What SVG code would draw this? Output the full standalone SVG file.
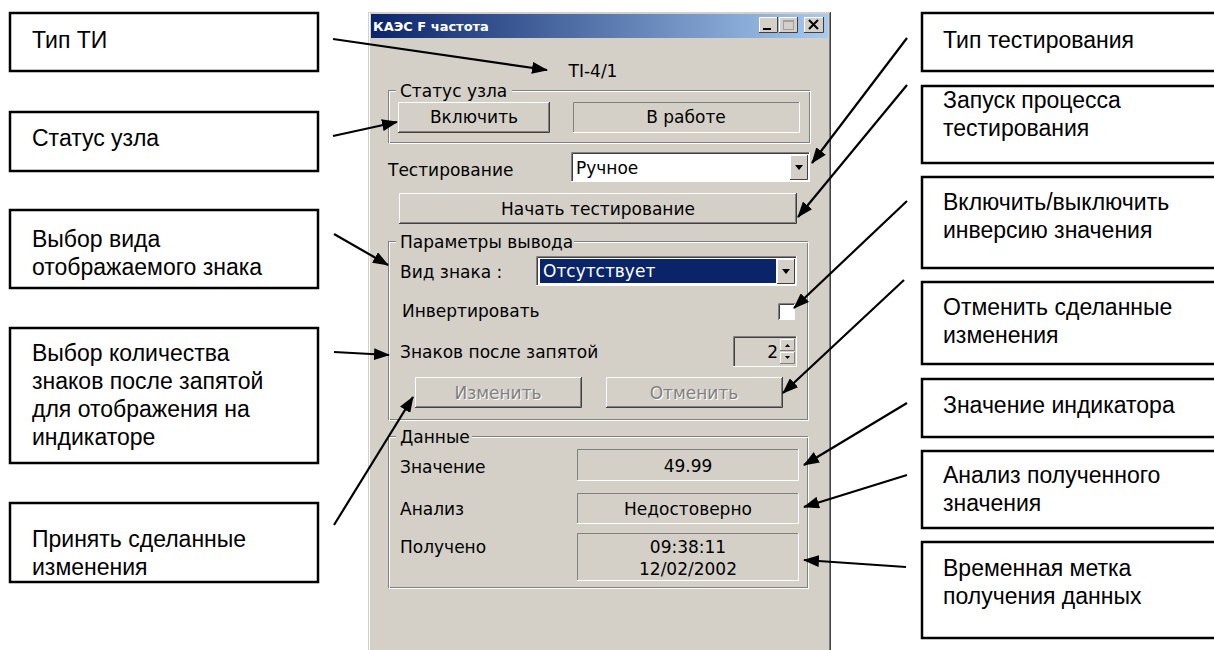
<svg xmlns="http://www.w3.org/2000/svg" width="1214" height="650" viewBox="0 0 1214 650">
<style>
.cb{fill:#fff;stroke:#000;stroke-width:2.5}
.ct{font-family:"Liberation Sans",Arial,sans-serif;font-size:23px;fill:#000}
.ui{font-family:"DejaVu Sans","Liberation Sans",sans-serif;font-size:17px;fill:#000}
.dis{fill:#808080}
.shd{fill:#fff}
.face{fill:#d4d0c8}
.conn line{stroke:#000;stroke-width:2.2}
</style>
<defs>
<linearGradient id="tb" x1="0" y1="0" x2="1" y2="0">
<stop offset="0" stop-color="#0a246a"/>
<stop offset="1" stop-color="#a6caf0"/>
</linearGradient>
<marker id="ah" markerUnits="userSpaceOnUse" markerWidth="16" markerHeight="12" refX="15" refY="6" orient="auto">
<path d="M0,0 L16,6 L0,12 z" fill="#000"/>
</marker>
</defs>
<rect width="1214" height="650" fill="#fff"/>

<g id="window">
<rect x="368" y="12" width="463" height="640" fill="#d4d0c8"/>
<line x1="368.5" y1="12" x2="368.5" y2="650" stroke="#d4d0c8"/>
<line x1="369.5" y1="13" x2="369.5" y2="650" stroke="#fff"/>
<line x1="830.5" y1="12" x2="830.5" y2="650" stroke="#404040"/>
<line x1="829.5" y1="13" x2="829.5" y2="650" stroke="#808080"/>
<rect x="371" y="14" width="457" height="24" fill="url(#tb)"/>
<text x="373" y="31" style="font-family:'DejaVu Sans',sans-serif;font-size:13px;font-weight:bold;fill:#fff">КАЭС F частота</text>
<g id="tbtns">
<rect x="759" y="17" width="19" height="16" class="face"/>
<path d="M759.5,33 V17.5 H778" fill="none" stroke="#fff"/>
<path d="M759,32.5 H777.5 V17" fill="none" stroke="#404040"/>
<rect x="763" y="28" width="8" height="2" fill="#000"/>
<rect x="779" y="17" width="19" height="16" class="face"/>
<path d="M779.5,33 V17.5 H798" fill="none" stroke="#fff"/>
<path d="M779,32.5 H797.5 V17" fill="none" stroke="#404040"/>
<rect x="783.5" y="20.5" width="10" height="9" fill="none" stroke="#a0a0a0"/>
<line x1="783.5" y1="21.5" x2="793.5" y2="21.5" stroke="#a0a0a0"/>
<rect x="804" y="17" width="20" height="16" class="face"/>
<path d="M804.5,33 V17.5 H824" fill="none" stroke="#fff"/>
<path d="M804,32.5 H823.5 V17" fill="none" stroke="#404040"/>
<path d="M809,20 L818,29 M818,20 L809,29" stroke="#000" stroke-width="2"/>
</g>
</g>

<g id="ti"><text class="ui" x="593" y="77" text-anchor="middle">TI-4/1</text></g>

<g id="grp-status">
<rect x="388.5" y="90.5" width="421" height="52" fill="none" stroke="#808080"/>
<rect x="389.5" y="91.5" width="421" height="52" fill="none" stroke="#fff"/>
<rect x="396" y="84" width="116" height="12" class="face"/>
<text class="ui" x="400" y="97">Статус узла</text>
<rect x="398" y="102" width="152" height="31" class="face"/>
<path d="M398.5,133 V102.5 H550" fill="none" stroke="#fff"/>
<path d="M398,132.5 H549.5 V102" fill="none" stroke="#404040"/>
<path d="M399,131.5 H548.5 V103" fill="none" stroke="#808080"/>
<text class="ui" x="474" y="123" text-anchor="middle">Включить</text>
<path d="M573.5,133 V102.5 H800" fill="none" stroke="#808080"/>
<path d="M573,132.5 H799.5 V102" fill="none" stroke="#fff"/>
<text class="ui" x="686" y="123" text-anchor="middle">В работе</text>
</g>

<g id="testing">
<text class="ui" x="388" y="176">Тестирование</text>
<rect x="571" y="152" width="239" height="30" fill="#fff"/>
<path d="M571.5,182 V152.5 H810" fill="none" stroke="#808080"/>
<path d="M572.5,181 V153.5 H809" fill="none" stroke="#404040"/>
<path d="M571,181.5 H809.5 V152" fill="none" stroke="#fff"/>
<text class="ui" x="576" y="174">Ручное</text>
<rect x="790" y="155" width="18" height="25" class="face"/>
<path d="M790.5,180 V155.5 H808" fill="none" stroke="#fff"/>
<path d="M790,179.5 H807.5 V155" fill="none" stroke="#404040"/>
<path d="M795,165 H803 L799,170 z" fill="#000"/>
</g>

<g id="btn-start">
<rect x="399" y="193" width="398" height="31" class="face"/>
<path d="M399.5,224 V193.5 H797" fill="none" stroke="#fff"/>
<path d="M399,223.5 H796.5 V193" fill="none" stroke="#404040"/>
<path d="M400,222.5 H795.5 V194" fill="none" stroke="#808080"/>
<text class="ui" x="598" y="215" text-anchor="middle">Начать тестирование</text>
</g>

<g id="grp-params">
<rect x="388.5" y="241.5" width="419" height="178" fill="none" stroke="#808080"/>
<rect x="389.5" y="242.5" width="419" height="178" fill="none" stroke="#fff"/>
<rect x="396" y="235" width="178" height="12" class="face"/>
<text class="ui" x="400" y="248">Параметры вывода</text>
<text class="ui" x="400" y="278">Вид знака :</text>
<rect x="536" y="256" width="261" height="30" fill="#fff"/>
<path d="M536.5,286 V256.5 H797" fill="none" stroke="#808080"/>
<path d="M537.5,285 V257.5 H796" fill="none" stroke="#404040"/>
<path d="M536,285.5 H796.5 V256" fill="none" stroke="#fff"/>
<rect x="540" y="259" width="236" height="24" fill="#0a246a"/>
<text class="ui" x="543" y="277" style="fill:#fff">Отсутствует</text>
<rect x="777" y="259" width="18" height="25" class="face"/>
<path d="M777.5,284 V259.5 H795" fill="none" stroke="#fff"/>
<path d="M777,283.5 H794.5 V259" fill="none" stroke="#404040"/>
<path d="M782,269 H790 L786,274 z" fill="#000"/>
<text class="ui" x="402" y="317">Инвертировать</text>
<rect x="778" y="303" width="17" height="17" fill="#fff"/>
<path d="M778.5,320 V303.5 H795" fill="none" stroke="#808080"/>
<path d="M779.5,319 V304.5 H794" fill="none" stroke="#404040"/>
<text class="ui" x="400" y="358">Знаков после запятой</text>
<rect x="733" y="336" width="64" height="31" class="face"/>
<path d="M733.5,367 V336.5 H797" fill="none" stroke="#808080"/>
<path d="M734.5,366 V337.5 H796" fill="none" stroke="#404040"/>
<path d="M733,366.5 H796.5 V336" fill="none" stroke="#fff"/>
<text class="ui" x="778" y="358" text-anchor="end">2</text>
<rect x="780" y="339" width="15" height="12" class="face"/>
<path d="M780.5,351 V339.5 H795" fill="none" stroke="#fff"/>
<path d="M780,350.5 H794.5 V339" fill="none" stroke="#808080"/>
<path d="M785,347 H790 L787.5,344 z" fill="#000"/>
<rect x="780" y="352" width="15" height="12" class="face"/>
<path d="M780.5,364 V352.5 H795" fill="none" stroke="#fff"/>
<path d="M780,363.5 H794.5 V352" fill="none" stroke="#808080"/>
<path d="M785,356 H790 L787.5,359 z" fill="#000"/>
<rect x="415" y="377" width="167" height="31" class="face"/>
<path d="M415.5,408 V377.5 H582" fill="none" stroke="#fff"/>
<path d="M415,407.5 H581.5 V377" fill="none" stroke="#404040"/>
<path d="M416,406.5 H580.5 V378" fill="none" stroke="#808080"/>
<text class="ui shd" x="499" y="400" text-anchor="middle">Изменить</text>
<text class="ui dis" x="498" y="399" text-anchor="middle">Изменить</text>
<rect x="606" y="377" width="177" height="31" class="face"/>
<path d="M606.5,408 V377.5 H783" fill="none" stroke="#fff"/>
<path d="M606,407.5 H782.5 V377" fill="none" stroke="#404040"/>
<path d="M607,406.5 H781.5 V378" fill="none" stroke="#808080"/>
<text class="ui shd" x="695" y="400" text-anchor="middle">Отменить</text>
<text class="ui dis" x="694" y="399" text-anchor="middle">Отменить</text>
</g>

<g id="grp-data">
<rect x="388.5" y="436.5" width="419" height="151" fill="none" stroke="#808080"/>
<rect x="389.5" y="437.5" width="419" height="151" fill="none" stroke="#fff"/>
<rect x="396" y="430" width="76" height="12" class="face"/>
<text class="ui" x="400" y="443">Данные</text>
<text class="ui" x="400" y="473">Значение</text>
<path d="M577.5,481 V449.5 H799" fill="none" stroke="#808080"/>
<path d="M577,480.5 H798.5 V449" fill="none" stroke="#fff"/>
<text class="ui" x="688" y="472" text-anchor="middle">49.99</text>
<text class="ui" x="400" y="515">Анализ</text>
<path d="M577.5,524 V493.5 H799" fill="none" stroke="#808080"/>
<path d="M577,523.5 H798.5 V493" fill="none" stroke="#fff"/>
<text class="ui" x="688" y="515" text-anchor="middle">Недостоверно</text>
<text class="ui" x="400" y="553">Получено</text>
<path d="M577.5,581 V533.5 H799" fill="none" stroke="#808080"/>
<path d="M577,580.5 H798.5 V533" fill="none" stroke="#fff"/>
<text class="ui" x="688" y="553" text-anchor="middle">09:38:11</text>
<text class="ui" x="688" y="575" text-anchor="middle">12/02/2002</text>
</g>

<g id="c1"><rect class="cb" x="10" y="13" width="308" height="58"/><text class="ct" x="32" y="48">Тип ТИ</text></g>
<g id="c2"><rect class="cb" x="10" y="112" width="308" height="59"/><text class="ct" x="32" y="146">Статус узла</text></g>
<g id="c3"><rect class="cb" x="10" y="210" width="308" height="78"/><text class="ct" x="32" y="247">Выбор вида</text><text class="ct" x="32" y="275">отображаемого знака</text></g>
<g id="c4"><rect class="cb" x="10" y="328" width="308" height="135"/><text class="ct" x="32" y="361">Выбор количества</text><text class="ct" x="32" y="389">знаков после запятой</text><text class="ct" x="32" y="417">для отображения на</text><text class="ct" x="32" y="445">индикаторе</text></g>
<g id="c5"><rect class="cb" x="10" y="503" width="308" height="79"/><text class="ct" x="32" y="547">Принять сделанные</text><text class="ct" x="32" y="575">изменения</text></g>

<g id="r1"><rect class="cb" x="922" y="13" width="300" height="58"/><text class="ct" x="943" y="48">Тип тестирования</text></g>
<g id="r2"><rect class="cb" x="922" y="86" width="300" height="77"/><text class="ct" x="943" y="108">Запуск процесса</text><text class="ct" x="943" y="136">тестирования</text></g>
<g id="r3"><rect class="cb" x="922" y="177" width="300" height="91"/><text class="ct" x="943" y="210">Включить/выключить</text><text class="ct" x="943" y="238">инверсию значения</text></g>
<g id="r4"><rect class="cb" x="922" y="282" width="300" height="82"/><text class="ct" x="943" y="315">Отменить сделанные</text><text class="ct" x="943" y="343">изменения</text></g>
<g id="r5"><rect class="cb" x="922" y="379" width="300" height="58"/><text class="ct" x="943" y="413">Значение индикатора</text></g>
<g id="r6"><rect class="cb" x="922" y="451" width="300" height="77"/><text class="ct" x="943" y="483">Анализ полученного</text><text class="ct" x="943" y="511">значения</text></g>
<g id="r7"><rect class="cb" x="922" y="542" width="300" height="96"/><text class="ct" x="943" y="576">Временная метка</text><text class="ct" x="943" y="604">получения данных</text></g>

<g id="connectors" class="conn">
<line x1="333" y1="39" x2="547" y2="70" marker-end="url(#ah)"/>
<line x1="333" y1="136" x2="397" y2="122" marker-end="url(#ah)"/>
<line x1="334" y1="234" x2="388" y2="265" marker-end="url(#ah)"/>
<line x1="334" y1="352" x2="389" y2="355" marker-end="url(#ah)"/>
<line x1="334" y1="525" x2="413" y2="397" marker-end="url(#ah)"/>
<line x1="907" y1="38" x2="812" y2="163" marker-end="url(#ah)"/>
<line x1="907" y1="85" x2="798" y2="217" marker-end="url(#ah)"/>
<line x1="907" y1="201" x2="794" y2="308" marker-end="url(#ah)"/>
<line x1="904" y1="280" x2="783" y2="393" marker-end="url(#ah)"/>
<line x1="907" y1="403" x2="804" y2="465" marker-end="url(#ah)"/>
<line x1="907" y1="475" x2="804" y2="507" marker-end="url(#ah)"/>
<line x1="906" y1="567" x2="804" y2="560" marker-end="url(#ah)"/>
</g>
</svg>
